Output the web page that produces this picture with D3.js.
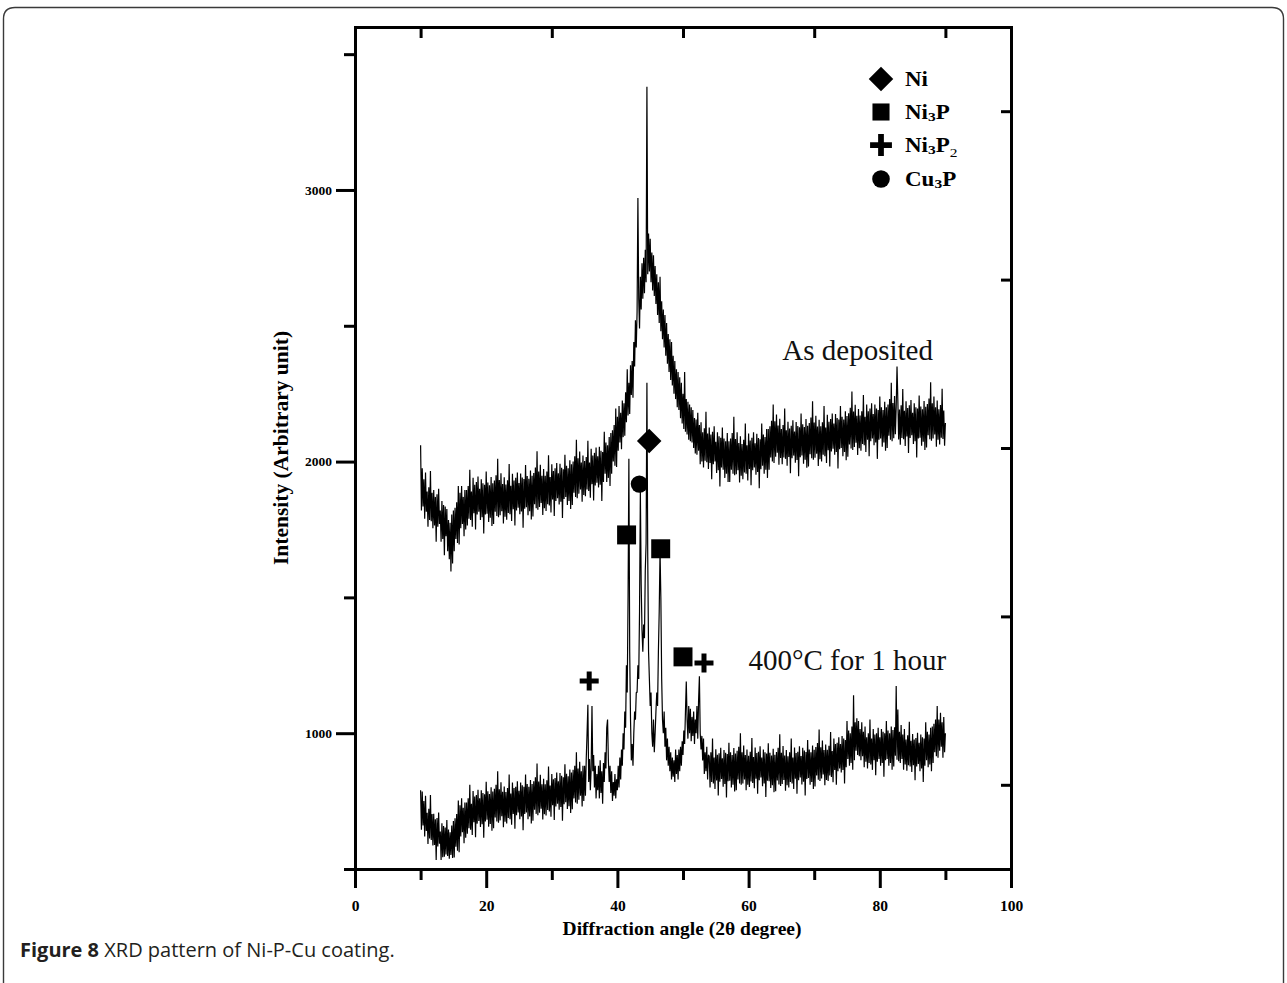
<!DOCTYPE html>
<html>
<head>
<meta charset="utf-8">
<script src="https://cdn.jsdelivr.net/npm/d3@7"></script>
<style>
  html, body { margin: 0; padding: 0; background: #fff; }
  svg { display: block; }
</style>
</head>
<body>
<svg id="chart" width="1287" height="983"></svg>
<script>
// ---------------- DATA ----------------
const angleStart = 10;      // 2θ of first sample (degree)
const angleStep = 0.125;    // sample spacing (degree)

// As deposited (upper trace), intensity read every 0.125°
const asDeposited = [
  2060, 1820, 1975, 1835, 1935, 1790, 1960, 1815,  // 10
  1890, 1760, 1905, 1785, 1965, 1780, 1885, 1755,  // 11
  1895, 1765, 1870, 1705, 1880, 1760, 1900, 1770,  // 12
  1820, 1705, 1855, 1715, 1840, 1655, 1835, 1725,  // 13
  1825, 1670, 1785, 1640, 1775, 1595, 1805, 1625,  // 14
  1820, 1670, 1830, 1715, 1850, 1700, 1910, 1695,  // 15
  1885, 1755, 1910, 1770, 1870, 1725, 1895, 1750,  // 16
  1895, 1765, 1910, 1790, 1970, 1785, 1890, 1760,  // 17
  1940, 1810, 1915, 1750, 1925, 1805, 1945, 1815,  // 18
  1900, 1785, 1935, 1795, 1920, 1735, 1915, 1805,  // 19
  1963, 1808, 1923, 1778, 1913, 1793, 1943, 1763,  // 20
  1920, 1770, 1930, 1815, 1950, 1800, 2010, 1795,  // 21
  1932, 1802, 1957, 1817, 1917, 1772, 1942, 1797,  // 22
  1916, 1786, 1931, 1811, 1991, 1806, 1911, 1781,  // 23
  1955, 1825, 1930, 1765, 1940, 1820, 1960, 1830,  // 24
  1921, 1806, 1956, 1816, 1941, 1756, 1936, 1826,  // 25
  1987, 1832, 1947, 1802, 1937, 1817, 1967, 1787,  // 26
  1948, 1798, 1958, 1843, 1978, 1828, 2038, 1823,  // 27
  1963, 1833, 1988, 1848, 1948, 1803, 1973, 1828,  // 28
  1948, 1818, 1963, 1843, 2023, 1838, 1943, 1813,  // 29
  1990, 1860, 1965, 1800, 1975, 1855, 1995, 1865,  // 30
  1957, 1842, 1992, 1852, 1977, 1792, 1972, 1862,  // 31
  2025, 1870, 1985, 1840, 1975, 1855, 2005, 1825,  // 32
  1990, 1840, 2000, 1885, 2020, 1870, 2080, 1865,  // 33
  2012, 1882, 2037, 1897, 1997, 1852, 2022, 1877,  // 34
  2002, 1872, 2017, 1897, 2077, 1892, 1997, 1867,  // 35
  2047, 1917, 2022, 1857, 2032, 1912, 2052, 1922,  // 36
  2020, 1905, 2055, 1915, 2040, 1855, 2035, 1925,  // 37
  2110, 1955, 2070, 1925, 2060, 1940, 2090, 1910,  // 38
  2105, 1955, 2115, 2000, 2135, 1985, 2195, 1980,  // 39
  2165, 2040, 2205, 2070, 2180, 2045, 2225, 2090,  // 40
  2215, 2095, 2255, 2145, 2340, 2170, 2290, 2175,  // 41
  2355, 2245, 2370, 2235, 2440, 2350, 2520, 2420,  // 42
  2550, 2970, 2600, 2490, 2680, 2560, 2730, 2600,  // 43
  2750, 2620, 2780, 2660, 3380, 2690, 2840, 2700,  // 44
  2820, 2660, 2770, 2630, 2760, 2610, 2720, 2580,  // 45
  2690, 2540, 2660, 2510, 2680, 2480, 2590, 2450,  // 46
  2560, 2420, 2540, 2390, 2510, 2360, 2470, 2330,  // 47
  2450, 2300, 2440, 2280, 2390, 2250, 2370, 2230,  // 48
  2340, 2200, 2330, 2190, 2310, 2160, 2290, 2140,  // 49
  2250, 2120, 2330, 2110, 2230, 2100, 2220, 2080,  // 50
  2210, 2075, 2200, 2070, 2190, 2050, 2160, 2030,  // 51
  2155, 2025, 2180, 2040, 2135, 1990, 2145, 2000,  // 52
  2108, 1978, 2123, 2003, 2183, 1998, 2103, 1973,  // 53
  2125, 1995, 2100, 1935, 2110, 1990, 2130, 2000,  // 54
  2073, 1958, 2108, 1968, 2093, 1908, 2088, 1978,  // 55
  2125, 1970, 2085, 1940, 2075, 1955, 2105, 1925,  // 56
  2075, 1925, 2085, 1970, 2105, 1955, 2165, 1950,  // 57
  2083, 1953, 2108, 1968, 2068, 1923, 2093, 1948,  // 58
  2065, 1935, 2080, 1960, 2140, 1955, 2060, 1930,  // 59
  2103, 1973, 2078, 1913, 2088, 1968, 2108, 1978,  // 60
  2067, 1952, 2102, 1962, 2087, 1902, 2082, 1972,  // 61
  2140, 1985, 2100, 1955, 2090, 1970, 2120, 1940,  // 62
  2120, 1970, 2130, 2015, 2150, 2000, 2210, 1995,  // 63
  2148, 2018, 2173, 2033, 2133, 1988, 2158, 2013,  // 64
  2120, 1990, 2135, 2015, 2195, 2010, 2115, 1985,  // 65
  2147, 2017, 2122, 1957, 2132, 2012, 2152, 2022,  // 66
  2111, 1996, 2146, 2006, 2131, 1946, 2126, 2016,  // 67
  2177, 2022, 2137, 1992, 2127, 2007, 2157, 1977,  // 68
  2132, 1982, 2142, 2027, 2162, 2012, 2222, 2007,  // 69
  2144, 2014, 2169, 2029, 2129, 1984, 2154, 2009,  // 70
  2130, 2000, 2145, 2025, 2205, 2020, 2125, 1995,  // 71
  2172, 2042, 2147, 1982, 2157, 2037, 2177, 2047,  // 72
  2140, 2025, 2175, 2035, 2160, 1975, 2155, 2045,  // 73
  2205, 2050, 2165, 2020, 2155, 2035, 2185, 2005,  // 74
  2168, 2018, 2178, 2063, 2198, 2048, 2258, 2043,  // 75
  2184, 2054, 2209, 2069, 2169, 2024, 2194, 2049,  // 76
  2170, 2040, 2185, 2065, 2245, 2060, 2165, 2035,  // 77
  2210, 2080, 2185, 2020, 2195, 2075, 2215, 2085,  // 78
  2175, 2060, 2210, 2070, 2195, 2010, 2190, 2080,  // 79
  2240, 2085, 2200, 2055, 2190, 2070, 2220, 2040,  // 80
  2200, 2050, 2210, 2095, 2230, 2080, 2290, 2075,  // 81
  2216, 2086, 2241, 2101, 2201, 2350, 2226, 2081,  // 82
  2192, 2062, 2207, 2087, 2267, 2082, 2187, 2057,  // 83
  2222, 2092, 2197, 2032, 2207, 2087, 2227, 2097,  // 84
  2180, 2065, 2215, 2075, 2200, 2015, 2195, 2085,  // 85
  2243, 2088, 2203, 2058, 2193, 2073, 2223, 2043,  // 86
  2202, 2052, 2212, 2097, 2232, 2082, 2292, 2077,  // 87
  2215, 2085, 2240, 2100, 2200, 2055, 2225, 2080,  // 88
  2193, 2063, 2208, 2088, 2268, 2083, 2188, 2058,  // 89
  2142                                             // 90
];

// 400 °C for 1 hour (lower trace), intensity read every 0.125°
const annealed = [
  790, 645, 785, 660, 750, 620, 770, 640,          // 10
  707, 592, 722, 612, 772, 607, 702, 587,          // 11
  703, 588, 683, 533, 688, 583, 708, 593,          // 12
  638, 533, 668, 543, 658, 545, 653, 553,          // 13
  680, 548, 645, 538, 635, 552, 660, 541,          // 14
  677, 542, 687, 582, 702, 567, 752, 562,          // 15
  735, 620, 760, 635, 725, 595, 745, 615,          // 16
  745, 630, 760, 650, 810, 645, 740, 625,          // 17
  787, 672, 767, 617, 772, 667, 792, 677,          // 18
  760, 655, 790, 665, 780, 615, 775, 675,          // 19
  821, 681, 786, 656, 776, 666, 801, 641,          // 20
  785, 650, 795, 690, 810, 675, 860, 670,          // 21
  794, 679, 819, 694, 784, 654, 804, 674,          // 22
  783, 668, 798, 688, 848, 683, 778, 663,          // 23
  818, 703, 798, 648, 803, 698, 823, 708,          // 24
  788, 683, 818, 693, 808, 643, 803, 703,          // 25
  848, 708, 813, 683, 803, 693, 828, 668,          // 26
  813, 678, 823, 718, 838, 703, 888, 698,          // 27
  822, 707, 847, 722, 812, 682, 832, 702,          // 28
  812, 697, 827, 717, 877, 712, 807, 692,          // 29
  850, 735, 830, 680, 835, 730, 855, 740,          // 30
  823, 718, 853, 728, 843, 678, 838, 738,          // 31
  886, 746, 851, 721, 841, 731, 866, 706,          // 32
  855, 720, 865, 760, 880, 745, 930, 740,          // 33
  870, 755, 895, 770, 860, 730, 880, 750,          // 34
  880, 770, 905, 1000, 1105, 820, 905, 790,        // 35
  870, 1100, 860, 920, 800, 880, 760, 850,         // 36
  790, 880, 760, 900, 780, 860, 740, 890,          // 37
  820, 930, 870, 1020, 1050, 900, 820, 880,        // 38
  780, 860, 750, 820, 770, 850, 760, 830,          // 39
  790, 880, 800, 910, 830, 940, 880, 1000,         // 40
  940, 1080, 1020, 1250, 1150, 1500, 2010, 1300,   // 41
  1050, 900, 960, 880, 1000, 1080, 1050, 1150,     // 42
  1150, 1250, 1200, 1450, 1890, 1550, 1380, 1300,  // 43
  1400, 1350, 1600, 1700, 2290, 1650, 1300, 1200,  // 44
  1100, 1150, 1000, 950, 1050, 930, 1000, 1080,    // 45
  1150, 1100, 1300, 1450, 1670, 1500, 1200, 1050,  // 46
  1000, 1080, 950, 1020, 900, 980, 880, 950,       // 47
  860, 930, 830, 910, 840, 900, 820, 940,          // 48
  850, 920, 830, 940, 860, 950, 880, 970,          // 49
  920, 1010, 960, 1080, 1190, 1050, 980, 1100,     // 50
  1000, 1090, 970, 1060, 990, 1080, 960, 1050,     // 51
  1000, 1100, 980, 1120, 1210, 1000, 940, 990,     // 52
  900, 980, 850, 930, 860, 950, 830, 920,          // 53
  915, 800, 930, 820, 980, 815, 910, 795,          // 54
  941, 826, 921, 771, 926, 821, 946, 831,          // 55
  908, 803, 938, 813, 928, 763, 923, 823,          // 56
  965, 825, 930, 800, 920, 810, 945, 785,          // 57
  925, 790, 935, 830, 950, 815, 1000, 810,         // 58
  930, 815, 955, 830, 920, 790, 940, 810,          // 59
  917, 802, 932, 822, 982, 817, 912, 797,          // 60
  947, 832, 927, 777, 932, 827, 952, 837,          // 61
  910, 805, 940, 815, 930, 765, 925, 825,          // 62
  963, 823, 928, 798, 918, 808, 943, 783,          // 63
  921, 786, 931, 826, 946, 811, 996, 806,          // 64
  928, 813, 953, 828, 918, 788, 938, 808,          // 65
  915, 800, 930, 820, 980, 815, 910, 795,          // 66
  947, 832, 927, 777, 932, 827, 952, 837,          // 67
  916, 811, 946, 821, 936, 771, 931, 831,          // 68
  975, 835, 940, 810, 930, 820, 955, 795,          // 69
  939, 804, 949, 844, 964, 829, 1014, 824,         // 70
  948, 833, 973, 848, 938, 808, 958, 828,          // 71
  939, 824, 954, 844, 1004, 839, 934, 819,         // 72
  980, 865, 960, 810, 965, 860, 985, 870,          // 73
  960, 855, 990, 865, 980, 815, 975, 875,          // 74
  1045, 905, 1010, 880, 1000, 890, 1025, 865,      // 75
  1140, 900, 1040, 935, 1055, 920, 1045, 915,      // 76
  1015, 900, 1040, 915, 1005, 875, 1025, 895,      // 77
  985, 870, 1000, 890, 1050, 885, 980, 865,        // 78
  1015, 900, 995, 845, 1000, 895, 1020, 905,       // 79
  985, 880, 1015, 890, 1005, 840, 1000, 900,       // 80
  1045, 905, 1010, 880, 1000, 890, 1025, 865,      // 81
  1012, 877, 1022, 917, 1174, 902, 1087, 897,      // 82
  1005, 890, 1030, 905, 995, 865, 1015, 885,       // 83
  977, 862, 992, 882, 1042, 877, 972, 857,         // 84
  997, 882, 977, 827, 982, 877, 1002, 887,         // 85
  965, 860, 995, 870, 985, 820, 980, 880,          // 86
  1040, 900, 1005, 875, 995, 885, 1020, 860,       // 87
  1025, 890, 1035, 930, 1050, 915, 1100, 910,      // 88
  1050, 935, 1075, 950, 1040, 910, 1060, 930,      // 89
  1000                                             // 90
];

// Phase markers placed on the peaks
const markerPhase     = ["Ni", "Cu3P", "Ni3P", "Ni3P", "Ni3P", "Ni3P2", "Ni3P2"];
const markerAngle     = [44.85, 43.35, 41.4, 46.6, 50.0, 35.7, 53.2];
const markerIntensity = [2076, 1917, 1730, 1679, 1281, 1192, 1258];

// Legend
const legendPhase = ["Ni", "Ni3P", "Ni3P2", "Cu3P"];
const legendLabel = [
  [["Ni", 0]],
  [["Ni", 0], ["3", 2], ["P", -2]],
  [["Ni", 0], ["3", 2], ["P", -2], ["2", 5]],
  [["Cu", 0], ["3", 2], ["P", -2]]
];

// Axis ticks
const xMajorTicks = [0, 20, 40, 60, 80, 100];
const xMinorTicks = [10, 30, 50, 70, 90];
const yMajorTicks = [1000, 2000, 3000];
const yMinorTicks = [500, 1500, 2500, 3500];
const rightTicks  = [1, 3, 5, 7, 9];

// Texts
const xTitle = "Diffraction angle (2\u03B8 degree)";
const yTitle = "Intensity (Arbitrary unit)";
const seriesLabels = ["As deposited", "400\u00B0C for 1 hour"];
const seriesLabelAt = [[2375, 88.1], [1233, 90.1]]; // [intensity of baseline, right-edge angle]

// ---------------- DRAW ----------------
const svg = d3.select("#chart");

// outer rounded frame
svg.append("path")
  .attr("d", "M3.5,995 L3.5,19 Q3.5,7.5 15,7.5 L1272,7.5 Q1283.5,7.5 1283.5,19 L1283.5,995")
  .attr("fill", "none").attr("stroke", "#3a3a3a").attr("stroke-width", 1.4);

const x = d3.scaleLinear().domain([0, 100]).range([355, 1011]);
const y = d3.scaleLinear().domain([500, 3600]).range([869, 27]);
const yr = d3.scaleLinear().domain([0, 10]).range([869, 27]);

const serif = "'Liberation Serif', 'Times New Roman', serif";

function styleAxis(g, w) {
  g.selectAll("path.domain").attr("stroke", "#000").attr("stroke-width", w).attr("stroke-linecap", "square");
  g.selectAll(".tick line").attr("stroke", "#000").attr("stroke-width", w);
}

// series (drawn first so the frame sits on top)
const line = d3.line()
  .x((d, i) => x(angleStart + i * angleStep))
  .y(d => y(d));

[asDeposited, annealed].forEach(series => {
  svg.append("path")
    .datum(series)
    .attr("d", line)
    .attr("fill", "none")
    .attr("stroke", "#000")
    .attr("stroke-width", 1.2)
    .attr("stroke-linejoin", "bevel");
});

// minor ticks
const gxMinor = svg.append("g").attr("transform", "translate(0,869)")
  .call(d3.axisBottom(x).tickValues(xMinorTicks).tickSize(11).tickSizeOuter(0).tickFormat(""));
styleAxis(gxMinor, 3);
const gyMinor = svg.append("g").attr("transform", "translate(355,0)")
  .call(d3.axisLeft(y).tickValues(yMinorTicks).tickSize(11).tickSizeOuter(0).tickFormat(""));
styleAxis(gyMinor, 3);

// bottom axis
const gx = svg.append("g").attr("transform", "translate(0,869)")
  .call(d3.axisBottom(x).tickValues(xMajorTicks).tickSize(19).tickSizeOuter(0).tickPadding(12).tickFormat(d3.format("d")));
styleAxis(gx, 3);
gx.selectAll("text").attr("font-family", serif).attr("font-weight", "bold")
  .attr("font-size", "15.5px").attr("fill", "#000");

// left axis
const gy = svg.append("g").attr("transform", "translate(355,0)")
  .call(d3.axisLeft(y).tickValues(yMajorTicks).tickSize(19).tickSizeOuter(0).tickPadding(4).tickFormat(d3.format("d")));
styleAxis(gy, 3);
gy.selectAll("text").attr("font-family", serif).attr("font-weight", "bold")
  .attr("font-size", "13.5px").attr("fill", "#000");

// top axis
const gt = svg.append("g").attr("transform", "translate(0,27)")
  .call(d3.axisTop(x).tickValues(xMinorTicks).tickSize(-11).tickSizeOuter(0).tickFormat(""));
styleAxis(gt, 3);

// right axis
const gr = svg.append("g").attr("transform", "translate(1011,0)")
  .call(d3.axisRight(yr).tickValues(rightTicks).tickSize(-10).tickSizeOuter(0).tickFormat(""));
styleAxis(gr, 3);

// axis titles
svg.append("text")
  .attr("x", (x(0) + x(100)) / 2 - 1).attr("y", 935)
  .attr("text-anchor", "middle")
  .attr("font-family", serif).attr("font-weight", "bold").attr("font-size", "19.5px")
  .text(xTitle);

svg.append("text")
  .attr("transform", "translate(288," + y(2050) + ") rotate(-90)")
  .attr("text-anchor", "middle")
  .attr("font-family", serif).attr("font-weight", "bold").attr("font-size", "21.5px")
  .text(yTitle);

// series labels
seriesLabels.forEach((t, i) => {
  svg.append("text")
    .attr("x", x(seriesLabelAt[i][1]))
    .attr("y", y(seriesLabelAt[i][0]))
    .attr("text-anchor", "end")
    .attr("font-family", serif).attr("font-size", "29px").attr("fill", "#111")
    .text(t);
});

// marker shapes
function plusPath(L, T) {
  const a = L / 2, b = T / 2;
  return `M${-b},${-a}H${b}V${-b}H${a}V${b}H${b}V${a}H${-b}V${b}H${-a}V${-b}H${-b}Z`;
}
function drawMarker(g, phase, cx, cy, s) {
  s = s || 1;
  if (phase === "Ni") {
    g.append("path").attr("d", d3.symbol(d3.symbolSquare, 300 * s * s)())
      .attr("transform", `translate(${cx},${cy}) rotate(45)`).attr("fill", "#000");
  } else if (phase === "Ni3P") {
    g.append("path").attr("d", d3.symbol(d3.symbolSquare, 360 * s * s)())
      .attr("transform", `translate(${cx},${cy})`).attr("fill", "#000");
  } else if (phase === "Ni3P2") {
    g.append("path").attr("d", plusPath(19 * s, 5 * s))
      .attr("transform", `translate(${cx},${cy})`).attr("fill", "#000");
  } else {
    g.append("path").attr("d", d3.symbol(d3.symbolCircle, 235 * s * s)())
      .attr("transform", `translate(${cx},${cy})`).attr("fill", "#000");
  }
}

const gm = svg.append("g");
markerPhase.forEach((p, i) => {
  drawMarker(gm, p, x(markerAngle[i]), y(markerIntensity[i]), 1);
});

// legend
const legendY = [79, 112, 145, 179];
const legendScale = [1.0, 0.9, 1.15, 1.02];
const gl = svg.append("g");
legendPhase.forEach((p, i) => {
  drawMarker(gl, p, 881, legendY[i], legendScale[i]);
  const t = gl.append("text")
    .attr("transform", `translate(905,${legendY[i] + 7}) scale(1.15,1)`)
    .attr("font-family", serif).attr("font-weight", "bold").attr("font-size", "20px");
  legendLabel[i].forEach(([s, dy]) => {
    const ts = t.append("tspan").text(s).attr("dy", dy);
    if (dy > 0) ts.attr("font-size", "13.5px").attr("font-weight", dy > 3 ? "normal" : "bold");
  });
});

// caption
const cap = svg.append("text")
  .attr("x", 20).attr("y", 957)
  .attr("font-family", "'Open Sans', 'Noto Sans', sans-serif").attr("font-size", "20px").attr("fill", "#231f20");
cap.append("tspan").attr("font-weight", "bold").text("Figure 8");
cap.append("tspan").text(" XRD pattern of Ni-P-Cu coating.");
</script>
</body>
</html>
